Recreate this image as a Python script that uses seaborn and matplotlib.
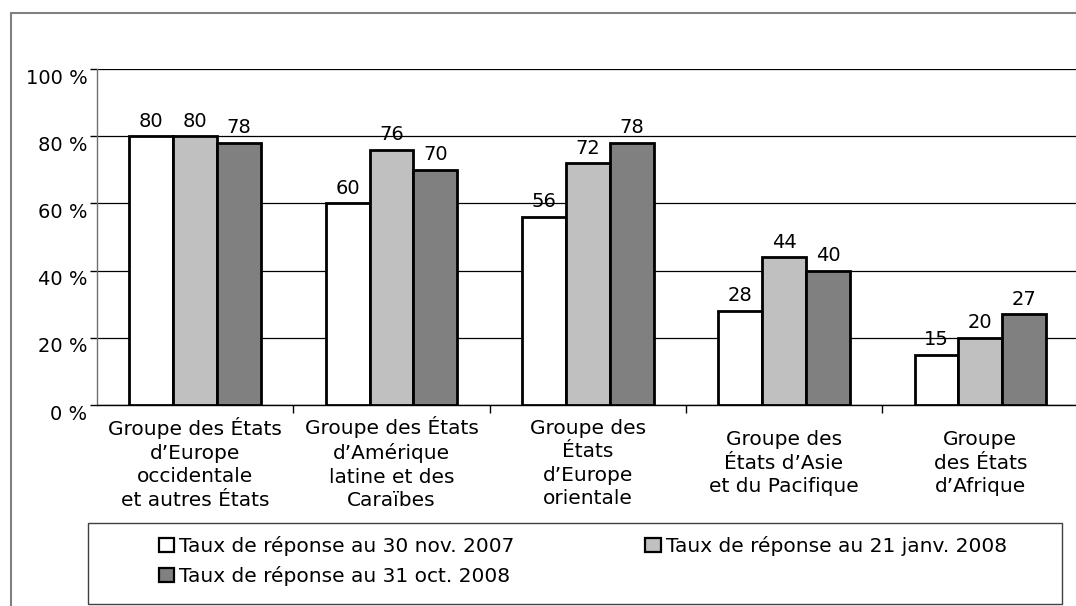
import matplotlib
matplotlib.use("Agg")
import matplotlib.pyplot as plt
import seaborn as sns
import pandas as pd
from matplotlib.patches import Patch, Rectangle
from matplotlib.lines import Line2D
from matplotlib.transforms import ScaledTranslation

categories = [
    "Groupe des États\nd’Europe\noccidentale\net autres États",
    "Groupe des États\nd’Amérique\nlatine et des\nCaraïbes",
    "Groupe des\nÉtats\nd’Europe\norientale",
    "Groupe des\nÉtats d’Asie\net du Pacifique",
    "Groupe\ndes États\nd’Afrique",
]
series_names = [
    "Taux de réponse au 30 nov. 2007",
    "Taux de réponse au 21 janv. 2008",
    "Taux de réponse au 31 oct. 2008",
]
nov_2007 = [80, 60, 56, 28, 15]
jan_2008 = [80, 76, 72, 44, 20]
oct_2008 = [78, 70, 78, 40, 27]
colors = ["#ffffff", "#c0c0c0", "#808080"]
yticks = [0, 20, 40, 60, 80, 100]
ytick_labels = ["0 %", "20 %", "40 %", "60 %", "80 %", "100 %"]

rows = []
for name, vals in zip(series_names, [nov_2007, jan_2008, oct_2008]):
    for c, v in zip(categories, vals):
        rows.append({"cat": c, "series": name, "val": v})
df = pd.DataFrame(rows)

sns.set_theme(style="white")
plt.rcParams["font.family"] = ["DejaVu Sans"]
plt.rcParams["text.color"] = "black"

W, H = 1076, 606
fig = plt.figure(figsize=(W / 100, H / 100), dpi=100)
fig.patch.set_facecolor("white")

ax_left, ax_right = 97, 1078.5
ax_top, ax_bottom = 69, 405
ax = fig.add_axes([ax_left / W, 1 - ax_bottom / H, (ax_right - ax_left) / W, (ax_bottom - ax_top) / H])

sns.barplot(data=df, x="cat", y="val", hue="series", order=categories,
            hue_order=series_names, palette=colors, width=0.67,
            edgecolor="black", linewidth=2.0, saturation=1, ax=ax, legend=False, zorder=3)

for cont in ax.containers:
    ax.bar_label(cont, fmt="%d", padding=4, fontsize=14, color="black")

ax.set_xlim(-0.5, len(categories) - 0.5)
ax.set_ylim(0, 100)
ax.set_yticks(yticks)
ax.set_yticklabels(ytick_labels, fontsize=14, color="black")
ax.yaxis.grid(True, color="black", linewidth=0.9, zorder=0)
ax.set_axisbelow(True)
ax.set_xlabel("")
ax.set_ylabel("")

for s in ["top", "right"]:
    ax.spines[s].set_visible(False)
ax.spines["left"].set_color("#707070")
ax.spines["left"].set_linewidth(1.0)
ax.spines["bottom"].set_color("black")
ax.spines["bottom"].set_linewidth(1.0)

ax.tick_params(axis="y", which="major", length=5, width=1, color="black", pad=2, left=True)
ax.set_xticks(range(len(categories)))
ax.set_xticklabels(categories, fontsize=14.5, linespacing=1.3, color="black")
ax.set_xticks([i + 0.5 for i in range(len(categories) - 1)], minor=True)
ax.tick_params(axis="x", which="major", length=0, pad=42)
ax.tick_params(axis="x", which="minor", length=6, width=1, color="black", bottom=True)
for lbl in ax.get_xticklabels():
    lbl.set_va("center")
off = ScaledTranslation(0, -7 / 100, fig.dpi_scale_trans)
for lbl in ax.get_yticklabels():
    lbl.set_transform(lbl.get_transform() + off)

# outer frame (top and left edges visible)
fig.add_artist(Line2D([11 / W, 1.0], [1 - 13 / H, 1 - 13 / H], transform=fig.transFigure,
                      color="#808080", linewidth=1.5))
fig.add_artist(Line2D([11 / W, 11 / W], [0, 1 - 13 / H], transform=fig.transFigure,
                      color="#808080", linewidth=1.5))

# legend box
fig.add_artist(Rectangle((88 / W, 1 - 604 / H), (1062 - 88) / W, (604 - 523) / H,
                         transform=fig.transFigure, facecolor="none", edgecolor="#404040", linewidth=1.0))

handles = [Patch(facecolor=c, edgecolor="black", linewidth=1.6) for c in colors]
order = [0, 2, 1]
leg = fig.legend([handles[i] for i in order], [series_names[i] for i in order], ncol=2,
                 frameon=False, loc="upper left", bbox_to_anchor=(159 / W, 1 - 536 / H),
                 borderpad=0, borderaxespad=0, handlelength=0.75, handleheight=0.75,
                 handletextpad=0.25, columnspacing=6.5, labelspacing=0.5, fontsize=14.5)
for t in leg.get_texts():
    t.set_color("black")

fig.savefig("out.png", dpi=100, facecolor="white")
